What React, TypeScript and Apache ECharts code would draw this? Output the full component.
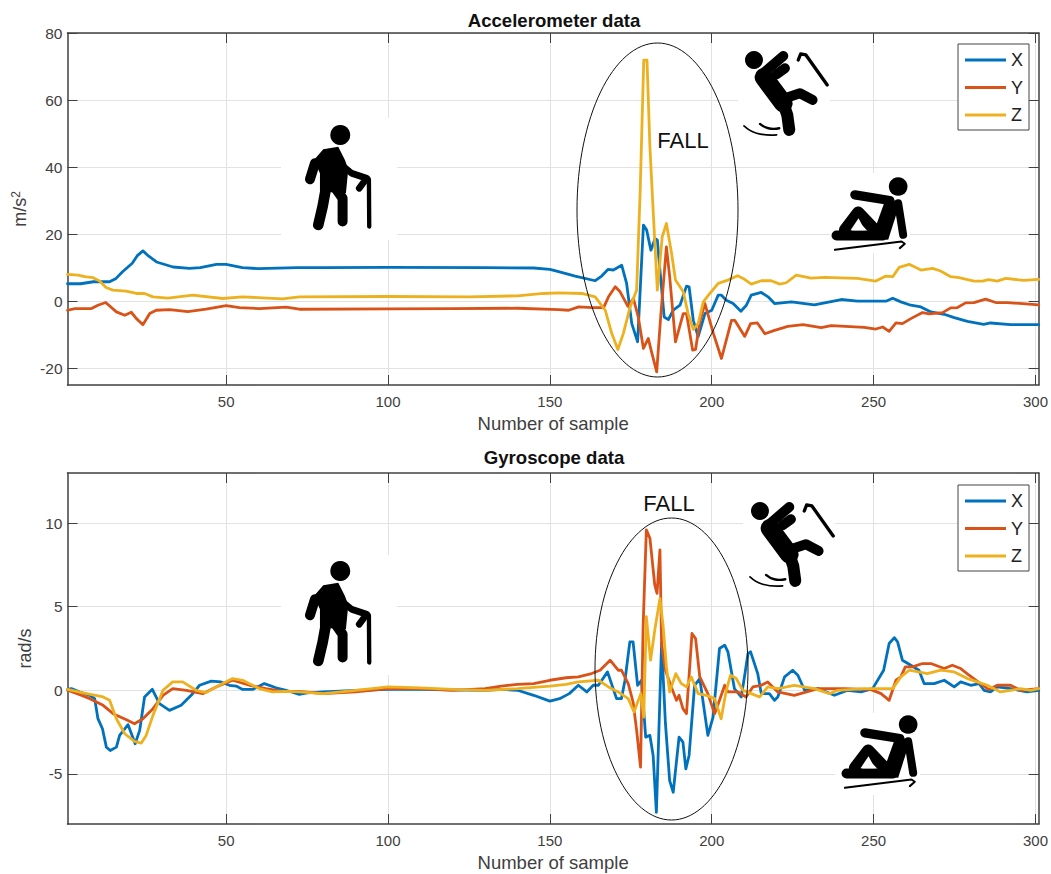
import React, { useEffect, useRef } from "react";
import * as echarts from "echarts";

const seriesNames = ["X", "Y", "Z"];
const sampleTicks = [50, 100, 150, 200, 250, 300];
const accelTicks = [-20, 0, 20, 40, 60, 80];
const gyroTicks = [-5, 0, 5, 10];

const accelX = [[1,5.2],[5,5.2],[9,5.8],[14,5.8],[16,6.8],[18,8.8],[21,11.3],[22.5,13.5],[24.3,15],[26,13.5],[28.5,11.7],[33.6,10.2],[38.7,9.8],[42,10],[47,11],[50,11],[55,10],[60,9.7],[72,10],[80,10],[100,10.1],[130,10],[145,9.9],[150,9.5],[152.7,8.8],[157.8,7.5],[164,6.1],[166,7.5],[168,9.5],[169.6,9.3],[172.2,10.7],[173.7,5.3],[175.3,-6.7],[177.1,-12.1],[178.9,22.7],[179.9,21.2],[181.2,15.2],[182.5,18.7],[183.2,18.2],[184,9.3],[185.3,-4.7],[186.6,-5.5],[188.1,-2.7],[190.2,-1.2],[192.2,4.5],[193,4.3],[194.3,-5.7],[195.8,-10.6],[197.9,-3.7],[200,-2.7],[202,1.8],[203,1.8],[204.5,0.3],[206.6,-0.7],[209,-3],[210.7,-1.2],[212.2,1.8],[215.3,2.6],[217.4,1.3],[219.4,-0.7],[224.6,-0.2],[231.7,-1.1],[240,0.5],[245,0],[253.8,0],[255.9,0.9],[258.4,-0.2],[261.5,-1.2],[264.6,-1.7],[267.7,-3.2],[271.8,-3.9],[274.9,-4.9],[279,-6],[284,-6.9],[286.1,-6.5],[292.3,-7],[301,-7]];
const accelY = [[1,-2.7],[3.3,-2.2],[8.4,-2.2],[10.4,-1.2],[12.8,-0.4],[16.1,-3.2],[18.7,-4.2],[20.7,-3.3],[22.3,-5.2],[24.3,-7],[26.4,-3.7],[28.4,-2.7],[32.5,-2.5],[38.2,-3.1],[43.8,-2.4],[50,-1.3],[54.1,-1.9],[60.2,-2.2],[68.5,-1.8],[72.6,-2.4],[100,-2.3],[120,-2.2],[140,-2.1],[152.7,-2.5],[155.8,-2.7],[158.9,-1.7],[163,-1.9],[166.6,-1.9],[168.1,1.3],[170.2,4.3],[171.7,2.8],[174.1,-1.5],[175.8,0.8],[177.3,-4.7],[178.9,-14.1],[180.4,-11.1],[181.4,-15.1],[183,-21.1],[184.3,-3.7],[186,16.2],[187,7.3],[188.8,-12.1],[191.2,-3.7],[192.2,-3.7],[194.1,-14.6],[195,-14.4],[196.3,-6.2],[197.9,-0.7],[200.5,-9.6],[203,-17.1],[206.1,-5.7],[207.1,-5.7],[210.2,-10.5],[212,-6.7],[214.1,-6.5],[216.4,-9.7],[219.4,-8.7],[223.5,-7.5],[228.2,-7],[233.8,-7.9],[236.9,-7.3],[247.1,-7.8],[250.7,-8.3],[252.8,-7.7],[254.8,-9],[256.9,-6.5],[258.9,-6.7],[261.5,-5.2],[265.1,-3.4],[267.2,-3.8],[271.3,-3.4],[273.8,-2],[275.9,-1.9],[278.4,-0.5],[281,-0.4],[284.6,0.6],[287.7,-0.4],[291.3,-0.4],[301,-1.1]];
const accelZ = [[1,8],[4.3,7.8],[6.3,7.3],[8.9,7],[10.9,6],[12.9,4.1],[15,3.3],[19.1,3],[22.3,2.3],[24.8,2.3],[27.4,1.3],[32,0.9],[39.7,1.8],[48.9,0.8],[55,1.3],[61.3,1],[67.4,0.7],[72.6,1.3],[100,1.4],[125,1.3],[140,1.6],[148,2.3],[152.7,2.5],[159.9,2.3],[164,1.3],[167.1,-2.7],[169.1,-9.6],[171,-14.4],[172.7,-9.6],[174.8,-1.7],[176.8,3.3],[177.9,33.1],[179,71.9],[180,71.9],[180.9,46.1],[182,25.2],[183.2,3.3],[184.7,19.2],[186,23.2],[187.6,14.2],[188.8,6.3],[191.2,2.8],[192.7,-3.7],[194.3,-8.4],[195.8,-6.7],[197.4,-0.2],[199.4,2.3],[202,5.3],[205,6.3],[208,7.6],[209.7,6.8],[212.2,5.1],[215.3,6.1],[218.4,6.1],[221,5.1],[223,5.5],[226.1,7.8],[230.7,6.9],[234.8,7.1],[245,6.8],[250.7,6],[253.8,7.5],[255.9,7.3],[257.9,10.1],[261,11],[264.6,9.3],[268.2,9.8],[270.7,9],[273.8,7.3],[276.4,7],[281,6],[283.6,6],[285.6,6.4],[288.2,6],[290.8,6.8],[296.4,6.2],[301,6.5]];

const gyroX = [[1,0.06],[2.2,0.1],[4.8,-0.1],[7.9,-0.3],[9.4,-0.5],[10.4,-1.7],[11.8,-2.3],[13,-3.4],[14.2,-3.6],[16.1,-3.4],[17.1,-2.7],[19.7,-2.06],[21.9,-3.2],[23.3,-2.4],[24.8,-0.4],[27.2,0.06],[29.4,-0.8],[32.5,-1.2],[36.1,-0.9],[39.2,-0.3],[41.8,0.3],[45.4,0.55],[48.4,0.5],[51,0.3],[53.1,0.25],[55.1,0.05],[58.2,0.05],[61.8,0.4],[65.4,0.15],[68.5,0],[72.6,-0.25],[75,-0.15],[80,-0.1],[90,0],[100,0.05],[110,0.05],[120,0.02],[130,0],[135,0.05],[140,0],[145,-0.3],[150,-0.65],[153,-0.5],[156,-0.2],[158.8,0.3],[161.4,-0.1],[163.4,0.3],[165,0.3],[167.8,1.1],[170.6,-0.5],[172.1,-0.5],[173.2,0.6],[174.7,2.9],[175.7,2.9],[177.1,0.3],[178.3,0.6],[179.6,-2.8],[180.9,-2.7],[181.9,-3.9],[182.9,-7.3],[184.5,2.8],[185.7,-2],[187,-5.4],[188.1,-6.1],[189.9,-2.8],[191.1,-3.1],[192,-4.7],[193,-3.9],[194.7,0.3],[196.3,0.7],[198.8,-2.7],[200.4,-1.6],[202.4,2.5],[204,2.7],[205,2.3],[207,0.1],[209.1,-0.4],[210.1,0.8],[211.2,2.2],[212,2.3],[214.2,1],[215.3,-0.2],[217.8,-0.2],[219.4,-0.6],[220.4,-0.4],[222.5,0.8],[225,1.2],[226.6,0.9],[228.7,0],[232.8,0.1],[237.9,-0.3],[242,0],[246.1,-0.1],[249.7,0.1],[253.1,1.2],[254.8,2.8],[256.4,3.15],[257.4,2.9],[258.9,1.8],[261.5,1.5],[264,1.2],[265.6,0.4],[268.7,0.4],[271.8,0.6],[274.9,0.2],[276.9,0.5],[280,0.3],[282.6,0.4],[284.1,0],[286.1,-0.1],[288.2,0.2],[292.3,0.1],[297.4,-0.1],[301,0]];
const gyroY = [[1,0],[4.8,-0.26],[7.9,-0.5],[12,-0.9],[15.1,-1.4],[19.2,-1.76],[21.7,-2],[24.3,-1.7],[27.4,-1.1],[30.5,-0.3],[33.5,0.1],[37.7,0],[42.8,-0.2],[46.9,0.2],[52,0.6],[57.2,0.3],[62.3,0.1],[67.4,-0.07],[72.6,-0.07],[80,-0.2],[90,-0.1],[100,0.1],[110,0.1],[120,0],[130,0.1],[135,0.25],[140,0.35],[145,0.4],[150,0.6],[155,0.75],[158.8,0.8],[162.9,1],[165.5,1.2],[168.6,1.8],[171.1,1.2],[172.1,1.2],[174.2,0.4],[175.7,-0.7],[176.8,-2.4],[178,-4.6],[178.8,3.8],[179.8,9.6],[180.9,9.1],[182.4,6.3],[183.1,5.8],[184,8.4],[184.5,2.8],[185.7,1.2],[187.5,0.2],[189.1,-0.6],[189.9,-0.3],[191.1,-1.1],[192.2,-1.4],[193.9,3.4],[195,3.1],[196.3,0.8],[198.8,-0.2],[200.9,-1.4],[202.4,-0.6],[204,0.3],[205,-0.1],[208.1,-0.1],[210.6,-0.4],[212.7,0.2],[215.3,0.3],[217.3,0.5],[220.4,-0.1],[225.5,-0.3],[232.8,0.1],[241,0.1],[249.2,0.04],[252.3,-0.2],[254.8,-0.6],[256.9,0.6],[258.4,0.8],[259.8,1.4],[262,1.4],[265.1,1.6],[267.7,1.6],[271.8,1.3],[274.3,1.5],[276.9,1.3],[279.5,0.9],[283,0.4],[285.6,0.04],[288.2,0.3],[292.3,0.3],[295.4,0],[301,0.1]];
const gyroZ = [[1,0.05],[5.8,-0.16],[12,-0.4],[14,-0.6],[16.1,-1.7],[18.7,-2.6],[21.7,-3.06],[23.8,-3.16],[25.3,-2.7],[27.4,-1.5],[30.5,0],[33.5,0.5],[36.6,0.5],[40.7,0],[43.8,-0.14],[47.9,0.3],[52,0.7],[55.1,0.6],[60.2,0.1],[64.3,-0.1],[68.5,-0.07],[72.6,-0.1],[80,-0.2],[90,0],[100,0.2],[110,0.15],[120,0.05],[130,0],[140,0.1],[150,0.25],[155,0.35],[158.8,0.5],[165,0.6],[168.1,0.2],[171.1,-0.1],[174.2,-0.5],[176,-1.3],[178.1,-0.2],[179,-1.6],[179.8,4.4],[181.1,1.8],[182.4,3.6],[184,5.5],[185,3.8],[186,1.4],[187,-0.1],[188.9,1],[190.6,0.4],[192.2,0.2],[193.7,0.8],[195.8,-0.2],[198.3,-0.3],[200.9,-0.5],[202.9,-1.7],[204.5,0],[205.8,0.9],[207.6,0.7],[209.6,0],[212.2,-0.2],[214.8,-0.4],[217.3,0.2],[220.4,0.1],[225.5,0.3],[231.7,0.1],[236.4,-0.2],[238.9,0],[247.1,0.1],[255.9,0.1],[258.4,0.8],[261,1.2],[266.6,1],[270.7,1.2],[274.9,1.1],[279,0.7],[282,0.5],[285.1,0.3],[289.2,-0.1],[292.3,0],[295.4,0.1],[298.5,0],[301,0.1]];

const colors = ["#0072BD", "#D95319", "#EDB120"];
const ink = "#404040";
const gridColor = "#e2e2e2";
const font = "Liberation Sans";

const stroke = (points: number[][], lineWidth: number, smooth = 0) => ({
  type: "polyline",
  z: 6,
  shape: { points, smooth },
  style: { stroke: "#000", fill: "none", lineWidth, lineCap: "round", lineJoin: "round" },
});
const disc = (cx: number, cy: number, r: number) => ({
  type: "circle", z: 6, shape: { cx, cy, r }, style: { fill: "#000" },
});
const solid = (points: number[][], fill = "#000") => ({
  type: "polygon", z: 6, shape: { points }, style: { fill },
});
const icon = (x: number, y: number, children: any[]) => ({ type: "group", x, y, scaleX: 1 / 3, scaleY: 1 / 3, children });
const whiteout = (x: number, y: number, width: number, height: number) => ({
  type: "rect", z: 1, shape: { x, y, width, height }, style: { fill: "#fff" },
});

const walker = () => [
  disc(211, 75, 30),
  solid([[160, 118], [205, 110], [225, 150], [235, 178], [228, 250], [150, 245], [150, 190], [132, 150]]),
  stroke([[135, 160], [120, 208]], 30),
  stroke([[215, 165], [245, 190], [290, 205], [268, 235]], 20),
  stroke([[168, 235], [158, 290], [145, 345]], 32),
  stroke([[200, 240], [218, 265], [218, 335]], 30),
  stroke([[297, 208], [298, 350]], 13),
];
const falling = () => [
  disc(72, 60, 27),
  stroke([[100, 100], [160, 48]], 30),
  stroke([[140, 103], [165, 85]], 30),
  stroke([[102, 112], [160, 190]], 56),
  stroke([[158, 185], [172, 225], [178, 270]], 36),
  stroke([[165, 175], [210, 160], [248, 180]], 30),
  stroke([[205, 60], [212, 42], [228, 45], [292, 135]], 10),
  stroke([[42, 258], [80, 280], [140, 285]], 5, 0.5),
  stroke([[90, 252], [115, 265], [148, 265]], 7, 0.5),
];
const sitting = () => [
  disc(505, 440, 28),
  stroke([[375, 465], [480, 482]], 28),
  solid([[470, 470], [510, 490], [475, 600], [425, 595]]),
  stroke([[505, 490], [520, 585]], 24),
  stroke([[320, 587], [460, 587]], 30),
  stroke([[345, 570], [385, 518], [435, 570]], 36),
  solid([[362, 571], [386, 535], [405, 571]], "#fff"),
  stroke([[315, 630], [515, 605], [525, 612], [510, 625]], 6),
];

function gridAxes(gridIndex: number, min: number, max: number, ticks: number[], name: any, nameGap: number) {
  const tick = { show: true, inside: true, length: 10, lineStyle: { color: ink, width: 1 } };
  const line = { show: true, onZero: false, lineStyle: { color: ink, width: 1.5 } };
  const xBase = { type: "value", gridIndex, min: 1, max: 301, axisLine: line };
  const yBase = { type: "value", gridIndex, min, max, axisLine: line };
  return {
    x: [
      {
        ...xBase, position: "bottom",
        name: "Number of sample", nameLocation: "center", nameGap: 29,
        nameTextStyle: { color: ink, fontFamily: font, fontSize: 18.5 },
        axisTick: { ...tick, customValues: sampleTicks },
        axisLabel: { customValues: sampleTicks, color: ink, fontFamily: font, fontSize: 15, margin: 9 },
        splitLine: { show: true, lineStyle: { color: gridColor, width: 1 } },
      },
      {
        ...xBase, position: "top",
        axisTick: { ...tick, customValues: sampleTicks },
        axisLabel: { show: false }, splitLine: { show: false },
      },
    ],
    y: [
      {
        ...yBase, position: "left", name, nameLocation: "center", nameGap,
        nameRotate: 90,
        nameTextStyle: {
          color: ink, fontFamily: font, fontSize: 18,
          rich: {
            u: { color: ink, fontFamily: font, fontSize: 18 },
            s: { color: ink, fontFamily: font, fontSize: 12, verticalAlign: "bottom", padding: [0, 0, 8, 0] },
          },
        },
        axisTick: { ...tick, customValues: ticks },
        axisLabel: { customValues: ticks, color: ink, fontFamily: font, fontSize: 15.5, margin: 5 },
        splitLine: { show: true, lineStyle: { color: gridColor, width: 1 } },
      },
      {
        ...yBase, position: "right",
        axisTick: { ...tick, customValues: ticks },
        axisLabel: { show: false }, splitLine: { show: false },
      },
    ],
  };
}

const lineSeries = (names: string[], data: number[][][], axis: number) =>
  names.map((name, i) => ({
    type: "line", name, data: data[i],
    xAxisIndex: axis, yAxisIndex: axis,
    showSymbol: false, symbol: "none",
    lineStyle: { color: colors[i], width: 2.8, join: "round", cap: "round" },
    itemStyle: { color: colors[i] },
  }));

const legendFor = (top: number) => ({
  orient: "vertical", left: 958, top,
  data: seriesNames,
  icon: "rect",
  backgroundColor: "#fff", borderColor: "#444", borderWidth: 1, borderRadius: 0,
  padding: [7, 6, 6, 7], itemWidth: 41, itemHeight: 3, itemGap: 9.5,
  selectedMode: false,
  textStyle: { color: "#222", fontFamily: font, fontSize: 18 },
});

export default function App() {
  const ref = useRef<HTMLDivElement>(null);
  useEffect(() => {
    const chart = echarts.init(ref.current!, null, { renderer: "svg" });
    const a = gridAxes(0, -25, 80, accelTicks, "{u|m/s}{s|2}", 29);
    const g = gridAxes(1, -8, 13, gyroTicks, "rad/s", 34);
    chart.setOption({
      animation: false,
      backgroundColor: "#fff",
      textStyle: { fontFamily: font },
      title: [
        { text: "Accelerometer data", left: 549, top: 6, textAlign: "center", textStyle: { color: "#111", fontFamily: font, fontSize: 18.6, fontWeight: "bold" } },
        { text: "Gyroscope data", left: 549, top: 443, textAlign: "center", textStyle: { color: "#111", fontFamily: font, fontSize: 18.6, fontWeight: "bold" } },
      ],
      legend: [legendFor(44), legendFor(485)],
      grid: [
        { left: 67.5, top: 33, width: 974, height: 352 },
        { left: 67.5, top: 473, width: 974, height: 351 },
      ],
      xAxis: [...a.x, ...g.x],
      yAxis: [...a.y, ...g.y],
      series: [
        ...lineSeries(seriesNames, [accelX, accelY, accelZ], 0),
        ...lineSeries(seriesNames, [accelX, accelY, accelZ], 1).map((s) => ({ ...s, data: [], name: "" })),
        ...lineSeries(seriesNames, [gyroX, gyroY, gyroZ], 2),
        ...lineSeries(seriesNames, [gyroX, gyroY, gyroZ], 3).map((s) => ({ ...s, data: [], name: "" })),
      ],
      graphic: [
        whiteout(281, 118, 116, 122),
        whiteout(738, 42, 92, 98),
        whiteout(830, 173, 80, 80),
        whiteout(281, 555, 116, 120),
        whiteout(743, 498, 92, 92),
        whiteout(835, 713, 85, 82),
        icon(270, 110, walker()),
        icon(730, 40, falling()),
        icon(730, 40, sitting()),
        icon(270, 546, walker()),
        icon(736, 491, falling()),
        icon(740, 578, sitting()),
        { type: "ellipse", z: 7, shape: { cx: 657.5, cy: 210, rx: 80.5, ry: 167 }, style: { fill: "none", stroke: "#111", lineWidth: 1 } },
        { type: "ellipse", z: 7, shape: { cx: 671.5, cy: 669, rx: 76.5, ry: 151 }, style: { fill: "none", stroke: "#111", lineWidth: 1 } },
        { type: "text", z: 8, x: 683, y: 140, style: { text: "FALL", fill: "#111", fontFamily: font, fontSize: 22, textAlign: "center", textVerticalAlign: "middle" } },
        { type: "text", z: 8, x: 669, y: 503, style: { text: "FALL", fill: "#111", fontFamily: font, fontSize: 22, textAlign: "center", textVerticalAlign: "middle" } },
      ],
    });
    return () => chart.dispose();
  }, []);
  return <div ref={ref} style={{ position: "absolute", left: 0, top: 0, width: 1051, height: 874 }} />;
}
